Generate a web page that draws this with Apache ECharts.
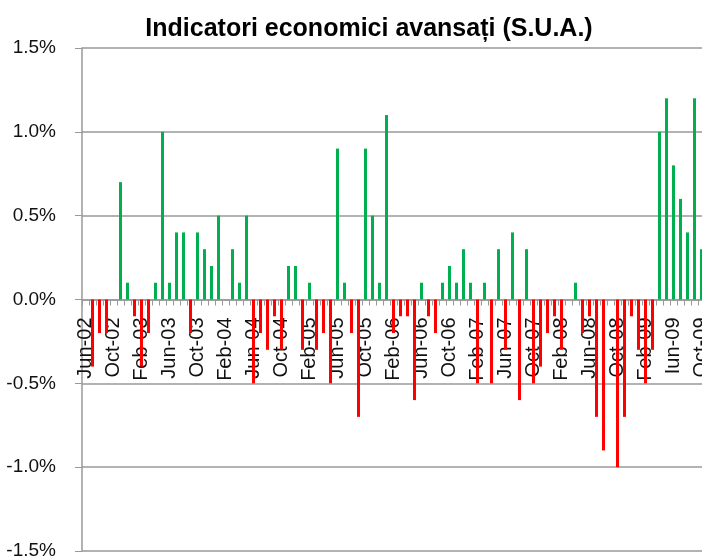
<!DOCTYPE html>
<html>
<head>
<meta charset="utf-8">
<script src="https://cdn.jsdelivr.net/npm/echarts@6/dist/echarts.min.js"></script>
<style>
  html, body { margin: 0; padding: 0; background: #fff; }
  #chart { width: 702px; height: 558px; }
</style>
</head>
<body>
<div id="chart"></div>
<script>
// monthly categories, Jun-02 .. Oct-09 (the source labels Jun-09 as "Iun-09")
const months = [
  'Jun-02', 'Jul-02', 'Aug-02', 'Sep-02', 'Oct-02', 'Nov-02', 'Dec-02',
  'Jan-03', 'Feb-03', 'Mar-03', 'Apr-03', 'May-03', 'Jun-03', 'Jul-03', 'Aug-03', 'Sep-03', 'Oct-03', 'Nov-03', 'Dec-03',
  'Jan-04', 'Feb-04', 'Mar-04', 'Apr-04', 'May-04', 'Jun-04', 'Jul-04', 'Aug-04', 'Sep-04', 'Oct-04', 'Nov-04', 'Dec-04',
  'Jan-05', 'Feb-05', 'Mar-05', 'Apr-05', 'May-05', 'Jun-05', 'Jul-05', 'Aug-05', 'Sep-05', 'Oct-05', 'Nov-05', 'Dec-05',
  'Jan-06', 'Feb-06', 'Mar-06', 'Apr-06', 'May-06', 'Jun-06', 'Jul-06', 'Aug-06', 'Sep-06', 'Oct-06', 'Nov-06', 'Dec-06',
  'Jan-07', 'Feb-07', 'Mar-07', 'Apr-07', 'May-07', 'Jun-07', 'Jul-07', 'Aug-07', 'Sep-07', 'Oct-07', 'Nov-07', 'Dec-07',
  'Jan-08', 'Feb-08', 'Mar-08', 'Apr-08', 'May-08', 'Jun-08', 'Jul-08', 'Aug-08', 'Sep-08', 'Oct-08', 'Nov-08', 'Dec-08',
  'Jan-09', 'Feb-09', 'Mar-09', 'Apr-09', 'May-09', 'Iun-09', 'Jul-09', 'Aug-09', 'Sep-09', 'Oct-09'
];

// monthly change of the leading indicators index, %
const changes = [
  0, -0.4, -0.2, -0.2, 0, 0.7, 0.1,
  -0.1, -0.4, -0.2, 0.1, 1.0, 0.1, 0.4, 0.4, -0.2, 0.4, 0.3, 0.2,
  0.5, 0, 0.3, 0.1, 0.5, -0.5, -0.2, -0.3, -0.1, -0.3, 0.2, 0.2,
  -0.3, 0.1, -0.3, -0.2, -0.5, 0.9, 0.1, -0.2, -0.7, 0.9, 0.5, 0.1,
  1.1, -0.2, -0.1, -0.1, -0.6, 0.1, -0.1, -0.2, 0.1, 0.2, 0.1, 0.3,
  0.1, -0.5, 0.1, -0.5, 0.3, -0.3, 0.4, -0.6, 0.3, -0.5, -0.4, -0.2,
  -0.1, -0.3, 0, 0.1, -0.2, -0.1, -0.7, -0.9, 0, -1.0, -0.7, -0.1,
  -0.3, -0.5, -0.3, 1.0, 1.2, 0.8, 0.6, 0.4, 1.2, 0.3
];

const yTicks = [-1.5, -1.0, -0.5, 0, 0.5, 1.0, 1.5];

const chart = echarts.init(document.getElementById('chart'));

const gridTop = 48, gridHeight = 503;
// the category axis sits on the 0% line, halfway down the plot
const zeroOffset = -gridHeight / 2;

chart.setOption({
  backgroundColor: '#fff',
  animation: false,
  textStyle: { fontFamily: 'Liberation Sans, Arial, sans-serif' },
  title: {
    text: 'Indicatori economici avansați (S.U.A.)',
    left: 364,
    textAlign: 'center',
    top: 12,
    textStyle: { fontSize: 25, fontWeight: 'bold', color: '#000' }
  },
  grid: { left: 82, top: gridTop, width: 623, height: gridHeight, outerBoundsMode: 'none', containLabel: false },
  xAxis: {
    type: 'category',
    data: months,
    boundaryGap: true,
    position: 'bottom',
    offset: zeroOffset,
    axisLine: { onZero: false, lineStyle: { color: '#999', width: 1.5 } },
    axisTick: { show: true, interval: 0, length: 6, lineStyle: { color: '#999' } },
    axisLabel: {
      interval: 3,
      rotate: 90,
      margin: 18,
      fontSize: 20,
      color: '#111'
    },
    splitLine: { show: false }
  },
  yAxis: {
    type: 'value',
    min: yTicks[0],
    max: yTicks[yTicks.length - 1],
    interval: 0.5,
    axisLine: { show: true, lineStyle: { color: '#999', width: 1.5 } },
    axisTick: { show: true, length: 7, lineStyle: { color: '#999' } },
    axisLabel: {
      margin: 26,
      fontSize: 19,
      color: '#111',
      formatter: (v) => v.toFixed(1) + '%'
    },
    splitLine: { show: true, lineStyle: { color: '#999', width: 1.5 } }
  },
  series: [{
    type: 'bar',
    data: changes,
    barWidth: 3,
    itemStyle: {
      color: (p) => (p.value >= 0 ? '#00B050' : '#FF0000')
    }
  }]
});
</script>
</body>
</html>
